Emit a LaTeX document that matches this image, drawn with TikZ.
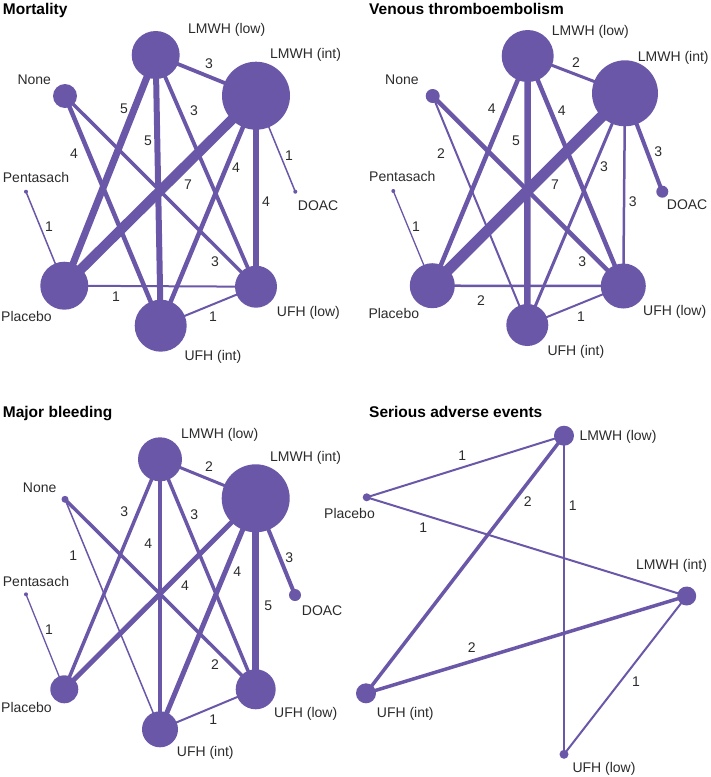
\documentclass[tikz,border=0pt]{standalone}
\usepackage{fontspec}
\setmainfont{Liberation Sans}
\usetikzlibrary{backgrounds}
\definecolor{netpurple}{HTML}{6B57A8}
\definecolor{labgray}{HTML}{2B2B2B}

\begin{document}
\begin{tikzpicture}[x=1pt,y=-1pt,
	trt/.style={shape=circle,fill=netpurple,inner sep=0pt,minimum size=#1},
	link/.style={draw=netpurple,line width=#1},
	lbl/.style={anchor=base west,inner sep=0pt,text=labgray,font=\fontsize{14}{14}\selectfont},
	cnt/.style={anchor=base,inner sep=0pt,text=labgray,font=\fontsize{14}{14}\selectfont},
	heading/.style={anchor=base west,inner sep=0pt,text=black,font=\fontsize{15.5}{16}\selectfont\bfseries}]
	\useasboundingbox (0,0) rectangle (711,777);

	% Mortality
	\node[heading] (mTitle) at (2.7,14) {Mortality};
	\node (mLow) at (155.7,55)[trt=48pt] {};
	\node (mInt) at (256,95.7)[trt=68pt] {};
	\node (mNone) at (65,96)[trt=24pt] {};
	\node (mPenta) at (26,191.7)[trt=4pt] {};
	\node (mDoac) at (295.3,191.7)[trt=4pt] {};
	\node (mPlac) at (64.3,285.7)[trt=48pt] {};
	\node (mUlow) at (256,286.7)[trt=42pt] {};
	\node (mUint) at (160.7,325.7)[trt=52pt] {};
	\begin{scope}[on background layer]
		\draw[link=3.8pt] (mLow.center) -- (mInt.center);
		\draw[link=7pt] (mLow.center) -- (mPlac.center);
		\draw[link=6pt] (mLow.center) -- (mUint.center);
		\draw[link=3.8pt] (mLow.center) -- (mUlow.center);
		\draw[link=4.5pt] (mNone.center) -- (mUint.center);
		\draw[link=3.5pt] (mNone.center) -- (mUlow.center);
		\draw[link=10pt] (mInt.center) -- (mPlac.center);
		\draw[link=4.5pt] (mInt.center) -- (mUint.center);
		\draw[link=5.5pt] (mInt.center) -- (mUlow.center);
		\draw[link=1.5pt] (mInt.center) -- (mDoac.center);
		\draw[link=1.5pt] (mPenta.center) -- (mPlac.center);
		\draw[link=2pt] (mPlac.center) -- (mUlow.center);
		\draw[link=2pt] (mUint.center) -- (mUlow.center);
	\end{scope}
	\node[lbl] (mLowL) at (188,33.3) {LMWH (low)};
	\node[lbl] (mIntL) at (270,58.3) {LMWH (int)};
	\node[lbl] (mNoneL) at (17.3,84.3) {None};
	\node[lbl] (mPentaL) at (2.7,182.3) {Pentasach};
	\node[lbl] (mDoacL) at (297.7,210) {DOAC};
	\node[lbl] (mPlacL) at (1,321.7) {Placebo};
	\node[lbl] (mUlowL) at (276.7,316) {UFH (low)};
	\node[lbl] (mUintL) at (184.3,360) {UFH (int)};
	\node[cnt] at (209,68) {3};
	\node[cnt] at (124,113) {5};
	\node[cnt] at (148,145) {5};
	\node[cnt] at (194,115) {3};
	\node[cnt] at (74,158) {4};
	\node[cnt] at (188,189) {7};
	\node[cnt] at (236,172) {4};
	\node[cnt] at (266,206) {4};
	\node[cnt] at (289,160) {1};
	\node[cnt] at (49,231) {1};
	\node[cnt] at (215,266) {3};
	\node[cnt] at (116,301) {1};
	\node[cnt] at (213,321) {1};

	% Venous thromboembolism
	\node[heading] (vTitle) at (369,14) {Venous thromboembolism};
	\node (vLow) at (527.7,56)[trt=52pt] {};
	\node (vInt) at (625,93.3)[trt=66pt] {};
	\node (vNone) at (432.7,96)[trt=14pt] {};
	\node (vPenta) at (393.3,191)[trt=4pt] {};
	\node (vDoac) at (662.3,191.7)[trt=12pt] {};
	\node (vPlac) at (432.3,285.7)[trt=45pt] {};
	\node (vUlow) at (623.3,286)[trt=45pt] {};
	\node (vUint) at (527.3,325)[trt=42pt] {};
	\begin{scope}[on background layer]
		\draw[link=3pt] (vLow.center) -- (vInt.center);
		\draw[link=4.5pt] (vLow.center) -- (vPlac.center);
		\draw[link=6.5pt] (vLow.center) -- (vUint.center);
		\draw[link=4.5pt] (vLow.center) -- (vUlow.center);
		\draw[link=2pt] (vNone.center) -- (vUint.center);
		\draw[link=4.5pt] (vNone.center) -- (vUlow.center);
		\draw[link=11pt] (vInt.center) -- (vPlac.center);
		\draw[link=3pt] (vInt.center) -- (vUint.center);
		\draw[link=2.5pt] (vInt.center) -- (vUlow.center);
		\draw[link=4pt] (vInt.center) -- (vDoac.center);
		\draw[link=1.3pt] (vPenta.center) -- (vPlac.center);
		\draw[link=2.5pt] (vPlac.center) -- (vUlow.center);
		\draw[link=2pt] (vUint.center) -- (vUlow.center);
	\end{scope}
	\node[lbl] (vLowL) at (551.7,35) {LMWH (low)};
	\node[lbl] (vIntL) at (637.7,61.7) {LMWH (int)};
	\node[lbl] (vNoneL) at (385,84) {None};
	\node[lbl] (vPentaL) at (369,181.7) {Pentasach};
	\node[lbl] (vDoacL) at (666.7,209) {DOAC};
	\node[lbl] (vPlacL) at (368.3,318.3) {Placebo};
	\node[lbl] (vUlowL) at (643,315.7) {UFH (low)};
	\node[lbl] (vUintL) at (547.3,355.7) {UFH (int)};
	\node[cnt] at (576,67.7) {2};
	\node[cnt] at (491.7,113.3) {4};
	\node[cnt] at (516,145.7) {5};
	\node[cnt] at (561.7,115) {4};
	\node[cnt] at (441,158.3) {2};
	\node[cnt] at (582.3,266) {3};
	\node[cnt] at (555,189) {7};
	\node[cnt] at (604,171.7) {3};
	\node[cnt] at (632.7,206) {3};
	\node[cnt] at (658.3,156.7) {3};
	\node[cnt] at (416,231) {1};
	\node[cnt] at (481,305) {2};
	\node[cnt] at (581,321) {1};

	% Major bleeding
	\node[heading] (bTitle) at (2.7,417.3) {Major bleeding};
	\node (bLow) at (160,459.3)[trt=44pt] {};
	\node (bInt) at (255.7,498.3)[trt=68pt] {};
	\node (bNone) at (65,499.3)[trt=7pt] {};
	\node (bPenta) at (26,594.3)[trt=4pt] {};
	\node (bDoac) at (295,595)[trt=12pt] {};
	\node (bPlac) at (64.3,689.3)[trt=28pt] {};
	\node (bUlow) at (255.7,689.3)[trt=40pt] {};
	\node (bUint) at (160,729.3)[trt=36pt] {};
	\begin{scope}[on background layer]
		\draw[link=3pt] (bLow.center) -- (bInt.center);
		\draw[link=3.5pt] (bLow.center) -- (bPlac.center);
		\draw[link=4pt] (bLow.center) -- (bUint.center);
		\draw[link=3.5pt] (bLow.center) -- (bUlow.center);
		\draw[link=1.5pt] (bNone.center) -- (bUint.center);
		\draw[link=3.5pt] (bNone.center) -- (bUlow.center);
		\draw[link=5pt] (bInt.center) -- (bPlac.center);
		\draw[link=5pt] (bInt.center) -- (bUint.center);
		\draw[link=7pt] (bInt.center) -- (bUlow.center);
		\draw[link=4pt] (bInt.center) -- (bDoac.center);
		\draw[link=1.3pt] (bPenta.center) -- (bPlac.center);
		\draw[link=2pt] (bUint.center) -- (bUlow.center);
	\end{scope}
	\node[lbl] (bLowL) at (181,438.3) {LMWH (low)};
	\node[lbl] (bIntL) at (270,461.7) {LMWH (int)};
	\node[lbl] (bNoneL) at (22.7,492.7) {None};
	\node[lbl] (bPentaL) at (2.7,586.7) {Pentasach};
	\node[lbl] (bDoacL) at (301.7,615) {DOAC};
	\node[lbl] (bPlacL) at (1,712.3) {Placebo};
	\node[lbl] (bUlowL) at (274,717.7) {UFH (low)};
	\node[lbl] (bUintL) at (176.7,756.7) {UFH (int)};
	\node[cnt] at (209,471.7) {2};
	\node[cnt] at (124.3,516.7) {3};
	\node[cnt] at (148.3,548.3) {4};
	\node[cnt] at (194.3,519) {3};
	\node[cnt] at (73.3,560.7) {1};
	\node[cnt] at (215,669.3) {2};
	\node[cnt] at (185,590) {4};
	\node[cnt] at (237.3,576.7) {4};
	\node[cnt] at (268.3,610) {5};
	\node[cnt] at (289.3,562.3) {3};
	\node[cnt] at (49,634.3) {1};
	\node[cnt] at (213.3,724.3) {1};

	% Serious adverse events
	\node[heading] (sTitle) at (369,417.3) {Serious adverse events};
	\node (sLow) at (564,435.7)[trt=20pt] {};
	\node (sPlac) at (366.7,497.3)[trt=8pt] {};
	\node (sInt) at (686.7,596)[trt=19pt] {};
	\node (sUint) at (366,693.3)[trt=20pt] {};
	\node (sUlow) at (564,754.3)[trt=9pt] {};
	\begin{scope}[on background layer]
		\draw[link=2pt] (sPlac.center) -- (sLow.center);
		\draw[link=3.5pt] (sLow.center) -- (sUint.center);
		\draw[link=2pt] (sLow.center) -- (sUlow.center);
		\draw[link=2pt] (sPlac.center) -- (sInt.center);
		\draw[link=3.5pt] (sUint.center) -- (sInt.center);
		\draw[link=2pt] (sInt.center) -- (sUlow.center);
	\end{scope}
	\node[lbl] (sLowL) at (579.3,440.7) {LMWH (low)};
	\node[lbl,anchor=base east] (sPlacL) at (375,518.3) {Placebo};
	\node[lbl] (sIntL) at (636,569) {LMWH (int)};
	\node[lbl] (sUintL) at (376.7,717.7) {UFH (int)};
	\node[lbl] (sUlowL) at (572.3,772.7) {UFH (low)};
	\node[cnt] at (462.3,460) {1};
	\node[cnt] at (527.7,506) {2};
	\node[cnt] at (572.7,510) {1};
	\node[cnt] at (423.3,532.3) {1};
	\node[cnt] at (471.7,652.7) {2};
	\node[cnt] at (636,686) {1};
\end{tikzpicture}
\end{document}
